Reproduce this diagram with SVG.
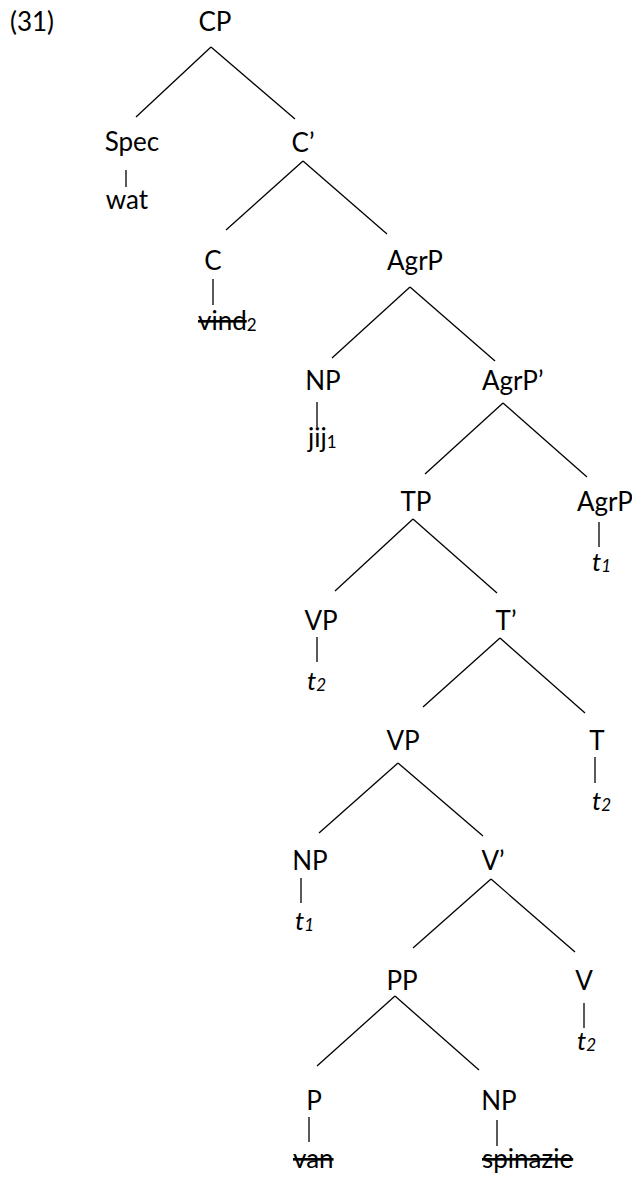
<svg xmlns="http://www.w3.org/2000/svg" width="632" height="1178" viewBox="0 0 632 1178">
<style>
text{font-family:Lato,"Open Sans","Liberation Sans",sans-serif;font-size:26px;fill:#000}
.m{text-anchor:middle}
.s{font-size:17px}
.i{font-style:italic}
.x{text-decoration:line-through}
#edges line{stroke:#000;stroke-width:1.3}
</style>
<rect width="632" height="1178" fill="#fff"/>
<g id="edges">
<line x1="211" y1="47" x2="136" y2="117"/>
<line x1="211" y1="47" x2="295" y2="119"/>
<line x1="126" y1="170" x2="126" y2="187"/>
<line x1="303" y1="161" x2="226" y2="230"/>
<line x1="303" y1="161" x2="387" y2="234"/>
<line x1="213" y1="279" x2="213" y2="305"/>
<line x1="410" y1="287" x2="332" y2="358"/>
<line x1="410" y1="287" x2="495" y2="361"/>
<line x1="317" y1="402" x2="317" y2="427"/>
<line x1="503" y1="403" x2="425" y2="474"/>
<line x1="503" y1="403" x2="587" y2="477"/>
<line x1="599" y1="522" x2="599" y2="547"/>
<line x1="413" y1="519" x2="335" y2="591"/>
<line x1="413" y1="519" x2="497" y2="593"/>
<line x1="317" y1="637" x2="317" y2="662"/>
<line x1="500" y1="638" x2="423" y2="707"/>
<line x1="500" y1="638" x2="585" y2="713"/>
<line x1="595" y1="757" x2="595" y2="783"/>
<line x1="398" y1="763" x2="319" y2="833"/>
<line x1="398" y1="763" x2="483" y2="836"/>
<line x1="301" y1="878" x2="301" y2="903"/>
<line x1="491" y1="879" x2="413" y2="948"/>
<line x1="491" y1="879" x2="575" y2="952"/>
<line x1="584" y1="1003" x2="584" y2="1028"/>
<line x1="395" y1="996" x2="317" y2="1066"/>
<line x1="395" y1="996" x2="479" y2="1070"/>
<line x1="309" y1="1117" x2="309" y2="1142"/>
<line x1="497" y1="1120" x2="497" y2="1146"/>
</g>
<g id="ex"><text x="10" y="31">(31)</text></g>
<g id="cp"><text class="m" x="215" y="31">CP</text></g>
<g id="spec"><text class="m" x="132" y="151">Spec</text><text class="m" x="127" y="209">wat</text></g>
<g id="cbar"><text class="m" x="303" y="152">C’</text></g>
<g id="c"><text class="m" x="213" y="270">C</text><text x="198" y="330"><tspan class="x">vind</tspan><tspan class="s" dy="1">2</tspan></text></g>
<g id="agrp"><text class="m" x="415" y="270">AgrP</text></g>
<g id="np1"><text class="m" x="323" y="390">NP</text><text x="308" y="447">jij<tspan class="s" dy="1">1</tspan></text></g>
<g id="agrpbar"><text x="482" y="390">AgrP’</text></g>
<g id="tp"><text class="m" x="416" y="511">TP</text></g>
<g id="agrp2"><text x="577" y="511">AgrP</text><text class="i" x="592" y="571">t<tspan class="s" dy="1">1</tspan></text></g>
<g id="vp1"><text class="m" x="321" y="630">VP</text><text class="i" x="307" y="690">t<tspan class="s" dy="1">2</tspan></text></g>
<g id="tbar"><text class="m" x="506" y="630">T’</text></g>
<g id="vp2"><text class="m" x="403" y="750">VP</text></g>
<g id="t"><text class="m" x="597" y="750">T</text><text class="i" x="592" y="810">t<tspan class="s" dy="1">2</tspan></text></g>
<g id="np2"><text class="m" x="310" y="870">NP</text><text class="i" x="295" y="930">t<tspan class="s" dy="1">1</tspan></text></g>
<g id="vbar"><text class="m" x="493" y="870">V’</text></g>
<g id="pp"><text class="m" x="402" y="990">PP</text></g>
<g id="v"><text class="m" x="584" y="990">V</text><text class="i" x="577" y="1050">t<tspan class="s" dy="1">2</tspan></text></g>
<g id="p"><text class="m" x="314" y="1110">P</text><text class="x" x="293" y="1168">van</text></g>
<g id="np3"><text class="m" x="499" y="1110">NP</text><text class="x" x="482" y="1168">spinazie</text></g>
</svg>
